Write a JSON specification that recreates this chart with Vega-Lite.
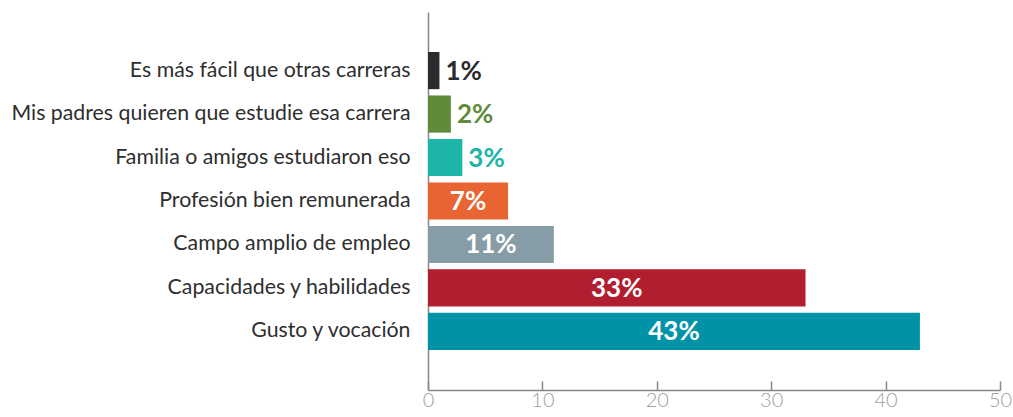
{
  "$schema": "https://vega.github.io/schema/vega-lite/v6.json",
  "width": 572,
  "height": 378,
  "autosize": "none",
  "padding": {"left": 428, "top": 12, "right": 13, "bottom": 27},
  "background": "white",
  "config": {"view": {"stroke": null}, "font": "Lato"},
  "data": {
    "values": [
      {"motivo": "Es más fácil que otras carreras", "pct": 1, "label": "1%", "color": "#2b2a2e"},
      {"motivo": "Mis padres quieren que estudie esa carrera", "pct": 2, "label": "2%", "color": "#5f8b3b"},
      {"motivo": "Familia o amigos estudiaron eso", "pct": 3, "label": "3%", "color": "#1cb5a8"},
      {"motivo": "Profesión bien remunerada", "pct": 7, "label": "7%", "color": "#e86433"},
      {"motivo": "Campo amplio de empleo", "pct": 11, "label": "11%", "color": "#869ca6"},
      {"motivo": "Capacidades y habilidades", "pct": 33, "label": "33%", "color": "#b01e30"},
      {"motivo": "Gusto y vocación", "pct": 43, "label": "43%", "color": "#0093a8"}
    ]
  },
  "encoding": {
    "y": {
      "field": "motivo",
      "type": "nominal",
      "sort": null,
      "title": null,
      "scale": {"paddingInner": 0.145, "paddingOuter": 0.92},
      "axis": {
        "ticks": false,
        "tickSize": 0,
        "labelPadding": 18,
        "labelFont": "Lato",
        "labelFontSize": 21.3,
        "labelColor": "#2e2e2e",
        "labelLimit": 500,
        "domainColor": "#888888",
        "domainWidth": 1.5
      }
    }
  },
  "layer": [
    {
      "mark": {"type": "bar"},
      "encoding": {
        "x": {
          "field": "pct",
          "type": "quantitative",
          "title": null,
          "scale": {"domain": [0, 50], "nice": false},
          "axis": {
            "values": [0, 10, 20, 30, 40, 50],
            "grid": false,
            "tickSize": -9,
            "tickColor": "#888888",
            "tickWidth": 1.5,
            "domainColor": "#888888",
            "domainWidth": 1.5,
            "labelPadding": 9,
            "labelFont": "Lato",
            "labelFontWeight": 300,
            "labelFontSize": 20,
            "labelColor": "#a0a0a0",
            "labelFlush": false
          }
        },
        "color": {"field": "color", "type": "nominal", "scale": null, "legend": null}
      }
    },
    {
      "transform": [{"filter": "datum.pct < 5"}],
      "mark": {"type": "text", "align": "left", "baseline": "middle", "dx": 6, "dy": 1, "fontSize": 26, "fontWeight": "bold", "font": "Lato"},
      "encoding": {
        "x": {"field": "pct", "type": "quantitative"},
        "text": {"field": "label"},
        "color": {"field": "color", "type": "nominal", "scale": null, "legend": null}
      }
    },
    {
      "transform": [{"filter": "datum.pct >= 5"}, {"calculate": "datum.pct / 2", "as": "mid"}],
      "mark": {"type": "text", "align": "center", "baseline": "middle", "dy": 1, "fontSize": 26, "fontWeight": "bold", "font": "Lato", "color": "white"},
      "encoding": {
        "x": {"field": "mid", "type": "quantitative"},
        "text": {"field": "label"}
      }
    }
  ]
}
